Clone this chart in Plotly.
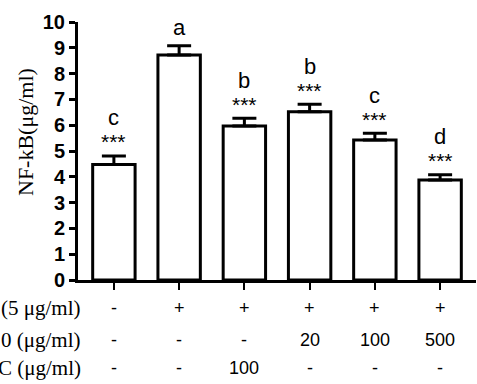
import plotly.graph_objects as go

categories = [0, 1, 2, 3, 4, 5]
values = [4.48, 8.72, 5.97, 6.52, 5.43, 3.88]
errors = [0.33, 0.36, 0.30, 0.29, 0.26, 0.20]
letters = ["c", "a", "b", "b", "c", "d"]
stars = ["***", "", "***", "***", "***", "***"]
y_ticks = [0, 1, 2, 3, 4, 5, 6, 7, 8, 9, 10]
row_labels = ["(5 μg/ml)", "0 (μg/ml)", "C (μg/ml)"]
row1 = ["-", "+", "+", "+", "+", "+"]
row2 = ["-", "-", "-", "20", "100", "500"]
row3 = ["-", "-", "100", "-", "-", "-"]
y_title = "NF-kB(μg/ml)"

SANS = "Liberation Sans, Arial, sans-serif"
SERIF = "Liberation Serif, Times New Roman, serif"

fig = go.Figure()
fig.add_trace(go.Bar(
    x=categories, y=values, width=0.65,
    marker=dict(color="white", line=dict(color="black", width=3)),
    error_y=dict(type="data", array=errors, arrayminus=[0]*len(errors),
                 symmetric=False, color="black", thickness=3, width=12),
    showlegend=False, hoverinfo="skip",
))

ann = []
for i, (v, e) in enumerate(zip(values, errors)):
    top = v + e
    if stars[i]:
        ann.append(dict(x=categories[i], y=top, xref="x", yref="y", text=stars[i],
                        showarrow=False, yanchor="middle", yshift=14,
                        font=dict(family=SANS, size=21, color="black")))
        ann.append(dict(x=categories[i], y=top, xref="x", yref="y", text=letters[i],
                        showarrow=False, yanchor="middle", yshift=38,
                        font=dict(family=SANS, size=22, color="black")))
    else:
        ann.append(dict(x=categories[i], y=top, xref="x", yref="y", text=letters[i],
                        showarrow=False, yanchor="middle", yshift=18,
                        font=dict(family=SANS, size=22, color="black")))

row_y = [-0.109, -0.233, -0.341]
for r, (lab, row) in enumerate(zip(row_labels, [row1, row2, row3])):
    ann.append(dict(x=0.012, y=row_y[r], xref="paper", yref="paper", text=lab,
                    showarrow=False, xanchor="right", yanchor="middle",
                    font=dict(family=SERIF, size=21, color="black")))
    for i, t in enumerate(row):
        ann.append(dict(x=categories[i], y=row_y[r], xref="x", yref="paper", text=t,
                        showarrow=False, xanchor="center", yanchor="middle",
                        font=dict(family=SANS, size=18, color="black")))

ann.append(dict(x=(25 - 78) / 398, y=(280 - 132) / 258, xref="paper", yref="paper",
                text=y_title, showarrow=False, textangle=-90,
                xanchor="center", yanchor="middle",
                font=dict(family=SERIF, size=22, color="black")))

fig.update_layout(
    width=477, height=384,
    margin=dict(l=78, r=1, t=22, b=104),
    plot_bgcolor="white", paper_bgcolor="white",
    annotations=ann,
    xaxis=dict(range=[-0.55, 5.55], tickvals=categories, ticktext=[""] * 6,
               showline=True, linecolor="black", linewidth=3,
               ticks="outside", ticklen=7, tickwidth=2, tickcolor="black",
               showgrid=False, zeroline=False, fixedrange=True),
    yaxis=dict(range=[0, 10], tickvals=y_ticks,
               showline=True, linecolor="black", linewidth=3,
               ticks="outside", ticklen=6, tickwidth=3, tickcolor="black",
               showgrid=False, zeroline=False, fixedrange=True,
               tickfont=dict(family=SANS, size=20, color="black", weight="bold")),
)

fig.write_html("out.html", config={"displayModeBar": False},
               post_script="document.body.style.margin='0';document.body.style.overflow='hidden';")
